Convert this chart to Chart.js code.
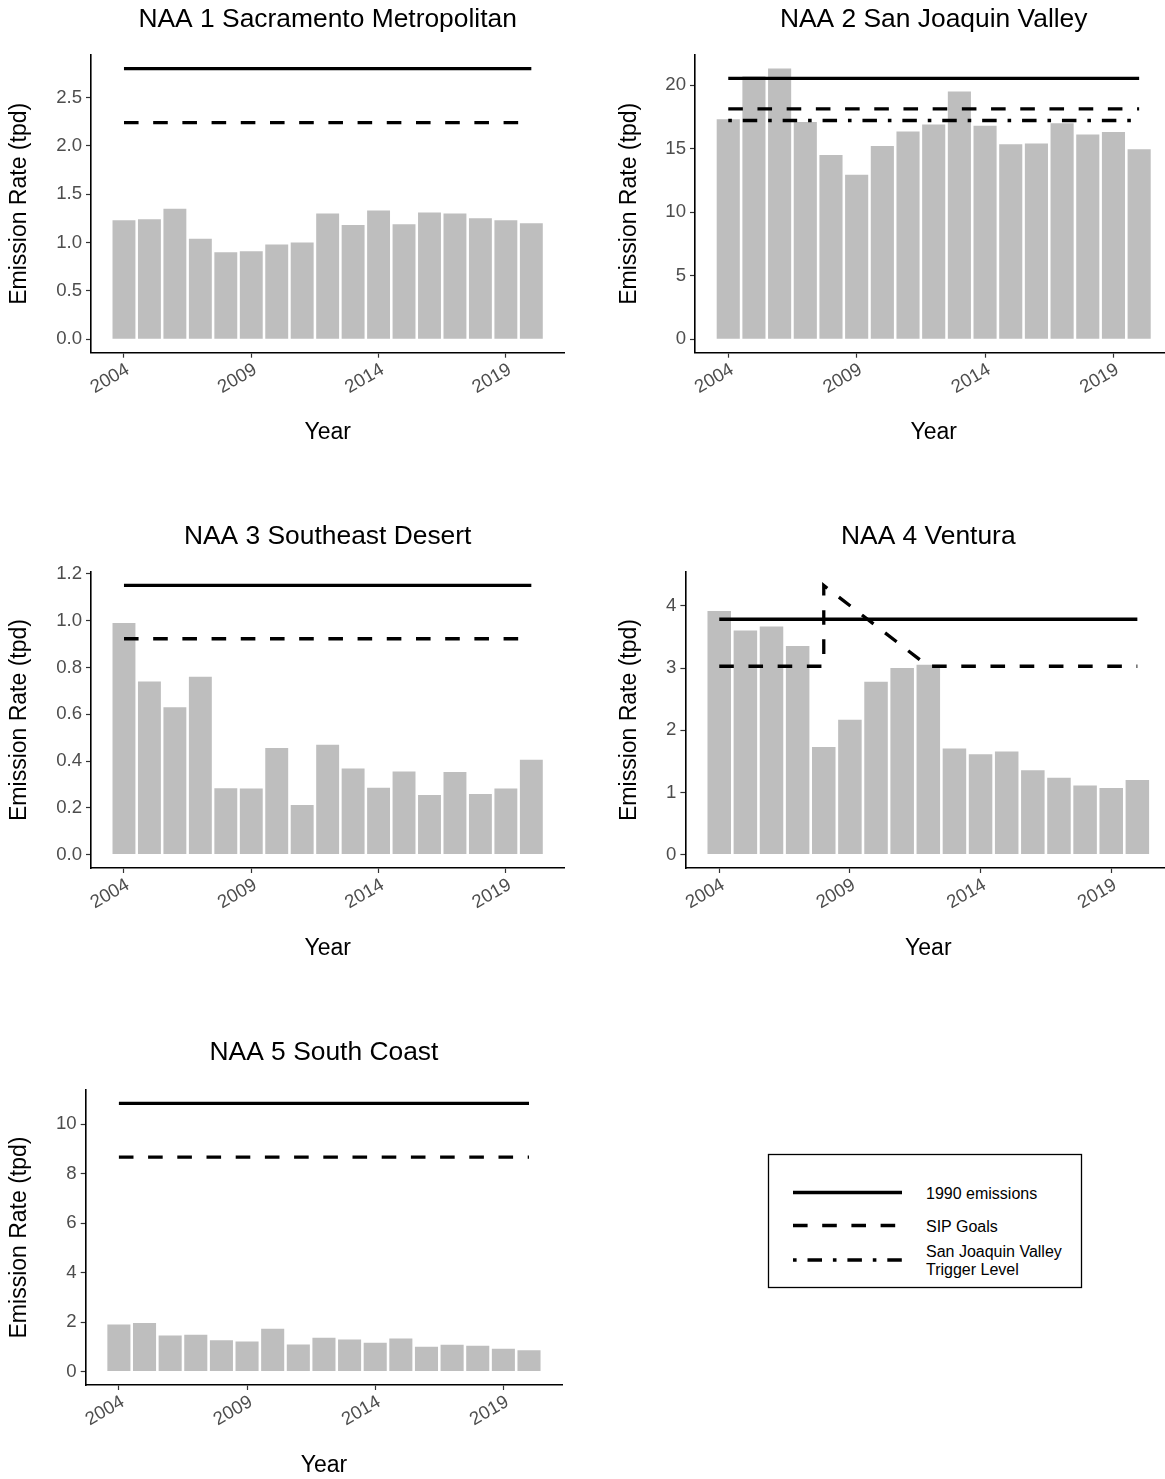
<!DOCTYPE html>
<html>
<head>
<meta charset="utf-8">
<script src="https://cdn.jsdelivr.net/npm/chart.js@4.4.1/dist/chart.umd.min.js"></script>
<style>
  html, body { margin:0; padding:0; background:#fff; overflow:hidden; width:1165px; height:1479px; }
  canvas { position:absolute; display:block; }
  #legend { position:absolute; left:760px; top:1146px; }
  #legend text { font-family:"Liberation Sans", Arial, sans-serif; font-size:16px; fill:#000; }
</style>
</head>
<body>
<canvas id="c1"></canvas>
<canvas id="c2"></canvas>
<canvas id="c3"></canvas>
<canvas id="c4"></canvas>
<canvas id="c5"></canvas>
<svg id="legend" width="330" height="150"></svg>
<script>
// ---------- data ----------
const years = [2004,2005,2006,2007,2008,2009,2010,2011,2012,2013,2014,2015,2016,2017,2018,2019,2020];
const xTickValues = [2004, 2009, 2014, 2019];
const refYears = [2004, 2020];

const naa1Title = "NAA 1 Sacramento Metropolitan";
const naa1Values = [1.23,1.24,1.35,1.04,0.90,0.91,0.98,1.00,1.30,1.18,1.33,1.19,1.31,1.30,1.25,1.23,1.20];
const naa1Level1990 = [2.80, 2.80];
const naa1SipGoal = [2.24, 2.24];
const naa1YTicks = ["0.0","0.5","1.0","1.5","2.0","2.5"];

const naa2Title = "NAA 2 San Joaquin Valley";
const naa2Values = [17.3,20.7,21.3,17.1,14.5,12.95,15.2,16.35,16.9,19.5,16.8,15.35,15.4,17.0,16.1,16.3,14.95];
const naa2Level1990 = [20.53, 20.53];
const naa2SipGoal = [18.13, 18.13];
const naa2Trigger = [17.21, 17.21];
const naa2YTicks = ["0","5","10","15","20"];

const naa3Title = "NAA 3 Southeast Desert";
const naa3Values = [0.99,0.74,0.63,0.76,0.284,0.282,0.456,0.212,0.470,0.368,0.286,0.355,0.255,0.353,0.259,0.282,0.406];
const naa3Level1990 = [1.151, 1.151];
const naa3SipGoal = [0.923, 0.923];
const naa3YTicks = ["0.0","0.2","0.4","0.6","0.8","1.0","1.2"];

const naa4Title = "NAA 4 Ventura";
const naa4Values = [3.92,3.605,3.67,3.355,1.73,2.17,2.78,3.00,3.055,1.705,1.615,1.66,1.355,1.235,1.11,1.07,1.20];
const naa4Level1990 = [3.786, 3.786];
const naa4SipYears = [2004, 2008, 2008, 2012, 2020];
const naa4SipGoal = [3.03, 3.03, 4.33, 3.03, 3.03];
const naa4YTicks = ["0","1","2","3","4"];

const naa5Title = "NAA 5 South Coast";
const naa5Values = [1.90,1.96,1.46,1.49,1.27,1.22,1.73,1.10,1.37,1.30,1.17,1.34,1.005,1.085,1.045,0.925,0.86];
const naa5Level1990 = [10.84, 10.84];
const naa5SipGoal = [8.67, 8.67];
const naa5YTicks = ["0","2","4","6","8","10"];

const legendLabels = ["1990 emissions", "SIP Goals", ["San Joaquin Valley", "Trigger Level"]];

// ---------- styles ----------
const FONT = '"Liberation Sans", Arial, sans-serif';
const SOLID = [];
const DASHED = [14.6, 14.6];
const DOTDASH = [3.6, 10.9, 14.5, 10.9];
const LINE_W = 3.3;
const TICK_FONT = 18.6;
const AXIS_TITLE_FONT = 23;
Chart.defaults.font.family = FONT;

function makeChart(id, g, titleText, values, lines, yTickLabels) {
  const canvas = document.getElementById(id);
  canvas.width = g.W; canvas.height = g.H;
  canvas.style.left = g.left + 'px'; canvas.style.top = g.top + 'px';
  canvas.style.width = g.W + 'px'; canvas.style.height = g.H + 'px';

  let maxY = Math.max(...values);
  lines.forEach(l => { maxY = Math.max(maxY, ...l.y); });
  const yMin = -maxY * 0.05, yMax = maxY * 1.05;
  const bMin = years[0] - 0.45, bMax = years[years.length - 1] + 0.45;
  const bSpan = bMax - bMin;
  const atHalf = AXIS_TITLE_FONT * 1.2 / 2;

  const datasets = [{
    type: 'bar',
    data: years.map((yr, i) => ({x: yr, y: values[i]})),
    backgroundColor: '#BEBEBE',
    borderWidth: 0,
    barPercentage: 0.9,
    categoryPercentage: 1,
    order: 2
  }].concat(lines.map(l => ({
    type: 'line',
    data: l.x.map((xv, i) => ({x: xv, y: l.y[i]})),
    borderColor: '#000',
    borderWidth: LINE_W,
    borderDash: l.dash,
    borderCapStyle: 'butt',
    borderJoinStyle: 'miter',
    pointRadius: 0,
    fill: false,
    tension: 0,
    order: 1
  })));

  new Chart(canvas, {
    type: 'bar',
    data: { datasets },
    options: {
      responsive: false,
      animation: false,
      devicePixelRatio: 1,
      layout: { padding: { left: g.padLeft, right: g.padRight, top: 0, bottom: 0 } },
      plugins: {
        legend: { display: false },
        tooltip: { enabled: false },
        title: {
          display: true, text: titleText, fullSize: false, color: '#000',
          font: { size: 26.4, weight: 'normal', family: FONT },
          padding: { top: g.titleTop, bottom: 55 - g.titleTop - 26.4 * 1.2 }
        }
      },
      scales: {
        x: {
          type: 'linear',
          min: bMin - bSpan * 0.05,
          max: bMax + bSpan * 0.05,
          offset: false,
          grid: { display: true, drawOnChartArea: false, drawTicks: true, tickLength: 5, tickColor: '#333', tickWidth: 1.2, offset: false },
          border: { display: true, color: '#000', width: 1.6 },
          ticks: {
            autoSkip: false, minRotation: 30, maxRotation: 30, padding: 1, labelOffset: 4,
            color: '#4D4D4D', font: { size: TICK_FONT, family: FONT },
            callback: (v) => String(v)
          },
          afterBuildTicks: (s) => { s.ticks = xTickValues.map(v => ({ value: v })); },
          afterFit: (s) => { s.height = g.H - g.chartBottom; },
          title: { display: true, text: 'Year', color: '#000', font: { size: AXIS_TITLE_FONT, family: FONT }, padding: { top: 0, bottom: g.xTitleCenter - atHalf } }
        },
        y: {
          type: 'linear',
          min: yMin,
          max: yMax,
          grid: { display: true, drawOnChartArea: false, drawTicks: true, tickLength: 5, tickColor: '#333', tickWidth: 1.2 },
          border: { display: true, color: '#000', width: 1.6 },
          ticks: {
            autoSkip: false, padding: 4, color: '#4D4D4D', font: { size: TICK_FONT, family: FONT },
            callback: (v, i) => yTickLabels[i]
          },
          afterBuildTicks: (s) => { s.ticks = yTickLabels.map(t => ({ value: parseFloat(t) })); },
          afterFit: (s) => { s.width = g.chartLeft - g.padLeft; },
          title: { display: true, text: 'Emission Rate (tpd)', color: '#000', font: { size: AXIS_TITLE_FONT, family: FONT }, padding: { top: g.yTitleCenter - atHalf, bottom: 0 } }
        }
      }
    }
  });
}

// xTitleCenter: distance of the x-title centre above the canvas bottom; yTitleCenter: x of y-title centre in the canvas
const geo1 = { left: 0,   top: 0,     W: 583, H: 460, padLeft: 0, padRight: 583 - 564.3, chartLeft: 91,    chartBottom: 352.7, titleTop: 4.3, yTitleCenter: 20, xTitleCenter: 27.8 };
const geo2 = { left: 583, top: 0,     W: 600, H: 460, padLeft: 0, padRight: 600 - 589.4, chartLeft: 112,   chartBottom: 352.7, titleTop: 4.3, yTitleCenter: 47, xTitleCenter: 27.8 };
const geo3 = { left: 0,   top: 517.3, W: 583, H: 460, padLeft: 0, padRight: 583 - 564.3, chartLeft: 91,    chartBottom: 351,   titleTop: 4.3, yTitleCenter: 20, xTitleCenter: 28.3 };
const geo4 = { left: 583, top: 517.3, W: 600, H: 460, padLeft: 0, padRight: 600 - 588.2, chartLeft: 102.4, chartBottom: 351,   titleTop: 4.3, yTitleCenter: 47, xTitleCenter: 28.3 };
const geo5 = { left: 0,   top: 1035,  W: 583, H: 460, padLeft: 0, padRight: 583 - 562.2, chartLeft: 85.7,  chartBottom: 350,   titleTop: 2.0, yTitleCenter: 20, xTitleCenter: 29 };

makeChart('c1', geo1, naa1Title, naa1Values, [
  { x: refYears, y: naa1Level1990, dash: SOLID },
  { x: refYears, y: naa1SipGoal, dash: DASHED }
], naa1YTicks);

makeChart('c2', geo2, naa2Title, naa2Values, [
  { x: refYears, y: naa2Level1990, dash: SOLID },
  { x: refYears, y: naa2SipGoal, dash: DASHED },
  { x: refYears, y: naa2Trigger, dash: DOTDASH }
], naa2YTicks);

makeChart('c3', geo3, naa3Title, naa3Values, [
  { x: refYears, y: naa3Level1990, dash: SOLID },
  { x: refYears, y: naa3SipGoal, dash: DASHED }
], naa3YTicks);

makeChart('c4', geo4, naa4Title, naa4Values, [
  { x: refYears, y: naa4Level1990, dash: SOLID },
  { x: naa4SipYears, y: naa4SipGoal, dash: DASHED }
], naa4YTicks);

makeChart('c5', geo5, naa5Title, naa5Values, [
  { x: refYears, y: naa5Level1990, dash: SOLID },
  { x: refYears, y: naa5SipGoal, dash: DASHED }
], naa5YTicks);

// ---------- legend ----------
(function () {
  const svg = document.getElementById('legend');
  const NS = 'http://www.w3.org/2000/svg';
  const rect = document.createElementNS(NS, 'rect');
  rect.setAttribute('x', 8.5); rect.setAttribute('y', 8.5);
  rect.setAttribute('width', 313); rect.setAttribute('height', 133);
  rect.setAttribute('fill', '#fff'); rect.setAttribute('stroke', '#000'); rect.setAttribute('stroke-width', 1.3);
  svg.appendChild(rect);
  const dashes = [SOLID, DASHED, DOTDASH];
  const rowY = [46.5, 79.5, 114];
  legendLabels.forEach((lab, i) => {
    const ln = document.createElementNS(NS, 'line');
    ln.setAttribute('x1', 33); ln.setAttribute('x2', 142);
    ln.setAttribute('y1', rowY[i]); ln.setAttribute('y2', rowY[i]);
    ln.setAttribute('stroke', '#000'); ln.setAttribute('stroke-width', LINE_W);
    ln.setAttribute('stroke-linecap', 'butt');
    if (dashes[i].length) ln.setAttribute('stroke-dasharray', dashes[i].join(' '));
    svg.appendChild(ln);
    const lines = Array.isArray(lab) ? lab : [lab];
    lines.forEach((t, k) => {
      const tx = document.createElementNS(NS, 'text');
      tx.setAttribute('x', 166);
      tx.setAttribute('y', rowY[i] + 0.5 + (k - (lines.length - 1) / 2) * 18);
      tx.setAttribute('dominant-baseline', 'central');
      tx.textContent = t;
      svg.appendChild(tx);
    });
  });
})();
</script>
</body>
</html>
